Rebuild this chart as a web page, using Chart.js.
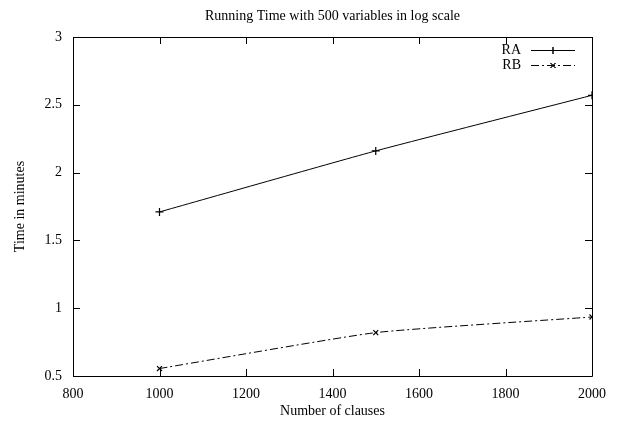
<!DOCTYPE html>
<html><head><meta charset="utf-8">
<script src="https://cdn.jsdelivr.net/npm/chart.js@4/dist/chart.umd.min.js"></script>
<style>html,body{margin:0;padding:0;background:#fff}</style>
</head><body>
<canvas id="c" width="619" height="423" style="width:619px;height:423px;display:block"></canvas>
<script>
const clauses = [1000, 1500, 2000];
const raTimes = [1.71, 2.16, 2.57];
const rbTimes = [0.555, 0.82, 0.935];
const xTicks = [800, 1000, 1200, 1400, 1600, 1800, 2000];
const yTicks = [0.5, 1, 1.5, 2, 2.5, 3];
const seriesNames = ['RA', 'RB'];
const chartTitle = 'Running Time with 500 variables in log scale';
const xTitle = 'Number of clauses';
const yTitle = 'Time in minutes';

const FONT = 'Liberation Serif';
const TICK = 7;

const gnuplotFrame = {
  id: 'gnuplotFrame',
  afterDatasetsDraw(chart) {
    const {ctx, chartArea: a, scales: {x, y}} = chart;
    ctx.save();
    ctx.strokeStyle = '#000';
    ctx.lineWidth = 1;
    ctx.setLineDash([]);
    ctx.beginPath();
    ctx.rect(Math.round(a.left) + 0.5, Math.round(a.top) + 0.5,
             Math.round(a.right - a.left), Math.round(a.bottom - a.top));
    ctx.stroke();
    ctx.beginPath();
    xTicks.forEach(v => {
      const px = Math.round(x.getPixelForValue(v)) + 0.5;
      ctx.moveTo(px, a.bottom); ctx.lineTo(px, a.bottom - TICK);
      ctx.moveTo(px, a.top); ctx.lineTo(px, a.top + TICK);
    });
    yTicks.forEach(v => {
      const py = Math.round(y.getPixelForValue(v)) + 0.5;
      ctx.moveTo(a.left, py); ctx.lineTo(a.left + TICK, py);
      ctx.moveTo(a.right, py); ctx.lineTo(a.right - TICK, py);
    });
    ctx.stroke();
    // legend (gnuplot style: label, then line sample with marker)
    const rows = [50, 65];
    chart.data.datasets.forEach((ds, i) => {
      const ly = rows[i] + 0.5;
      ctx.fillStyle = '#000';
      ctx.font = '14px "' + FONT + '"';
      ctx.textAlign = 'right';
      ctx.textBaseline = 'middle';
      ctx.fillText(ds.label, 521, rows[i]);
      ctx.beginPath();
      ctx.setLineDash(ds.borderDash || []);
      ctx.moveTo(531, ly); ctx.lineTo(575, ly);
      ctx.stroke();
      ctx.setLineDash([]);
      Chart.helpers.drawPoint(ctx, {pointStyle: ds.pointStyle, radius: 3.5, borderWidth: 1, rotation: 0}, 553, ly);
      ctx.stroke();
    });
    ctx.restore();
  }
};

const plainLabel = v => String(v);

new Chart(document.getElementById('c'), {
  type: 'line',
  data: {
    datasets: [
      {
        label: seriesNames[0],
        data: clauses.map((c, i) => ({x: c, y: raTimes[i]})),
        borderColor: '#000', backgroundColor: '#000', borderWidth: 1,
        pointStyle: 'cross', pointRadius: 4, pointBorderWidth: 1.2,
        tension: 0.15, fill: false
      },
      {
        label: seriesNames[1],
        data: clauses.map((c, i) => ({x: c, y: rbTimes[i]})),
        borderColor: '#000', backgroundColor: '#000', borderWidth: 1,
        borderDash: [8, 3, 2, 3],
        pointStyle: 'crossRot', pointRadius: 3.5, pointBorderWidth: 1.2,
        tension: 0.15, fill: false
      }
    ]
  },
  options: {
    responsive: false,
    animation: false,
    devicePixelRatio: 1,
    layout: {padding: {left: 0, right: 27, top: 0, bottom: 0}},
    plugins: {
      legend: {display: false},
      tooltip: {enabled: false},
      title: {
        display: true, text: chartTitle, color: '#000', fullSize: false,
        font: {family: FONT, size: 14, weight: 'normal', lineHeight: 1.2},
        padding: {top: 8, bottom: 12.2}
      }
    },
    scales: {
      x: {
        type: 'linear', min: 800, max: 2000,
        afterBuildTicks: s => { s.ticks = xTicks.map(v => ({value: v})); },
        afterFit: s => { s.height = 47; },
        grid: {display: false, drawTicks: false},
        border: {display: false},
        ticks: {color: '#000', padding: 10, maxRotation: 0, autoSkip: false,
                callback: plainLabel, font: {family: FONT, size: 14}},
        title: {display: true, text: xTitle, color: '#000',
                font: {family: FONT, size: 14, lineHeight: 1.2},
                padding: {top: 0, bottom: 3}}
      },
      y: {
        type: 'linear', min: 0.5, max: 3,
        afterBuildTicks: s => { s.ticks = yTicks.map(v => ({value: v})); },
        afterFit: s => { s.width = 73; },
        grid: {display: false, drawTicks: false},
        border: {display: false},
        ticks: {color: '#000', padding: 11, autoSkip: false,
                callback: plainLabel, font: {family: FONT, size: 14}},
        title: {display: true, text: yTitle, color: '#000',
                font: {family: FONT, size: 14, lineHeight: 1.2},
                padding: {top: 12, bottom: 0}}
      }
    }
  },
  plugins: [gnuplotFrame]
});
</script>
</body></html>
